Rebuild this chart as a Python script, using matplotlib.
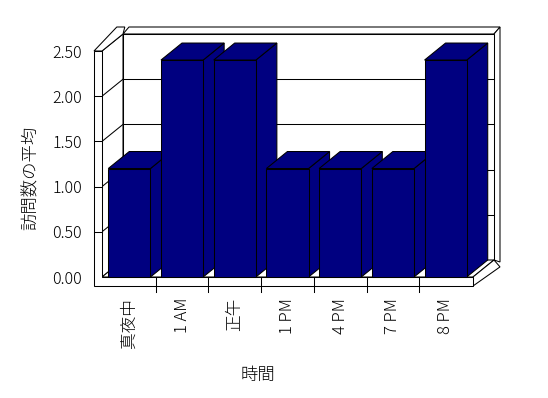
import matplotlib
matplotlib.use("Agg")
import matplotlib.pyplot as plt
from matplotlib.patches import Polygon

plt.rcParams['font.family'] = ['Noto Sans CJK JP', 'DejaVu Sans']
plt.rcParams['font.weight'] = 'light'

# ---- data ----
categories = ['真夜中', '1 AM', '正午', '1 PM', '4 PM', '7 PM', '8 PM']
values = [1.2, 2.4, 2.4, 1.2, 1.2, 1.2, 2.4]
yticks = [0.0, 0.5, 1.0, 1.5, 2.0, 2.5]
ytick_labels = ['0.00', '0.50', '1.00', '1.50', '2.00', '2.50']
xlabel = '時間'
ylabel = '訪問数の平均'

# ---- style / geometry (pixels -> figure) ----
W, H = 548, 398
fig = plt.figure(figsize=(W / 100, H / 100), dpi=100)
ax_l, ax_r, ax_b, ax_t = 103, 472, 277, 51
ax = fig.add_axes([ax_l / W, 1 - ax_b / H, (ax_r - ax_l) / W, (ax_b - ax_t) / H])
n = len(categories)
ymax = yticks[-1]
ax.set_xlim(0, n)
ax.set_ylim(0, ymax)
px_x = (ax_r - ax_l) / n          # pixels per category
px_y = (ax_b - ax_t) / ymax       # pixels per unit
DX, DY = 21 / px_x, 17 / px_y     # depth offset in data units
wall_w = 8 / px_x
wall_in = 1 / px_x
floor_h = 9 / px_y
TX, TY = 6 / px_x, 7 / px_y       # back-wall thickness
BAR = '#000080'
LW = 0.75

def poly(pts, fc='white', z=1):
    p = Polygon(pts, closed=True, facecolor=fc, edgecolor='black',
                linewidth=LW, clip_on=False, zorder=z, joinstyle='miter')
    ax.add_patch(p)

xl = -wall_in                      # inner face of left wall
xr = n + 1 / px_x                  # right end of floor
# back wall
bx0, bx1 = xl + DX, xr + DX
poly([(bx0, ymax + DY), (bx1, ymax + DY), (bx1 + TX, ymax + DY + TY),
      (bx0 + TX, ymax + DY + TY)], z=1)
poly([(bx1, DY), (bx1, ymax + DY), (bx1 + TX, ymax + DY + TY),
      (bx1 + TX, DY + TY - floor_h)], z=1)
poly([(bx0, DY), (bx1, DY), (bx1, ymax + DY), (bx0, ymax + DY)], z=1)
for t in yticks[1:-1]:
    ax.plot([bx0, bx1], [t + DY, t + DY], color='black', lw=LW,
            clip_on=False, zorder=1.5)

# left wall inner face + top face
poly([(xl, 0), (xl + DX, DY), (xl + DX, ymax + DY), (xl, ymax)], z=2)
for t in yticks[1:-1]:
    ax.plot([xl, xl + DX], [t, t + DY], color='black', lw=LW,
            clip_on=False, zorder=2.5)
poly([(xl - wall_w, ymax), (xl, ymax), (xl + DX, ymax + DY),
      (xl + DX + TX * 0.3, ymax + DY + TY), (xl - wall_w + DX + TX * 0.3, ymax + DY + TY)], z=2)

# floor top + right side
poly([(xl, 0), (xr, 0), (xr + DX, DY), (xl + DX, DY)], z=3)
poly([(xr, -floor_h), (xr, 0), (xr + DX, DY), (xr + DX + TX, DY - floor_h + TY * 0.3)], z=3)
# L-shaped front face (left wall front + floor front)
poly([(xl - wall_w, -floor_h), (xr, -floor_h), (xr, 0), (xl, 0),
      (xl, ymax), (xl - wall_w, ymax)], z=3)
for t in yticks[1:-1]:
    ax.plot([xl - wall_w, xl], [t, t], color='black', lw=LW, clip_on=False, zorder=3.5)
for k in range(1, n):
    ax.plot([k, k], [0, -floor_h - 6 / px_y], color='black', lw=LW,
            clip_on=False, zorder=3.5)

# bars
gap = 0.1
for k, v in enumerate(values):
    x0, x1 = k + gap, k + 1 - gap
    z = 4 + k * 0.1
    poly([(x1, 0), (x1 + DX, DY), (x1 + DX, v + DY), (x1, v)], fc=BAR, z=z)
    poly([(x0, v), (x1, v), (x1 + DX, v + DY), (x0 + DX, v + DY)], fc=BAR, z=z)
    poly([(x0, 0), (x1, 0), (x1, v), (x0, v)], fc=BAR, z=z + 0.01)

# ticks / labels
for s in ax.spines.values():
    s.set_visible(False)
ax.set_facecolor('none')
ax.set_yticks(yticks)
ax.set_yticklabels(ytick_labels, fontsize=11.5)
ax.set_xticks([k + 0.5 for k in range(n)])
ax.set_xticklabels(categories, rotation=90, fontsize=12, va='top', ha='center')
ax.tick_params(axis='y', length=0, pad=15)
ax.tick_params(axis='x', length=0, pad=15)

fig.text(31 / W, 1 - 178 / H, ylabel, rotation=90, ha='center', va='center', fontsize=12.5)
fig.text(258 / W, 1 - 375 / H, xlabel, ha='center', va='center', fontsize=12.5)

fig.savefig('out.png', dpi=100, facecolor='white')
